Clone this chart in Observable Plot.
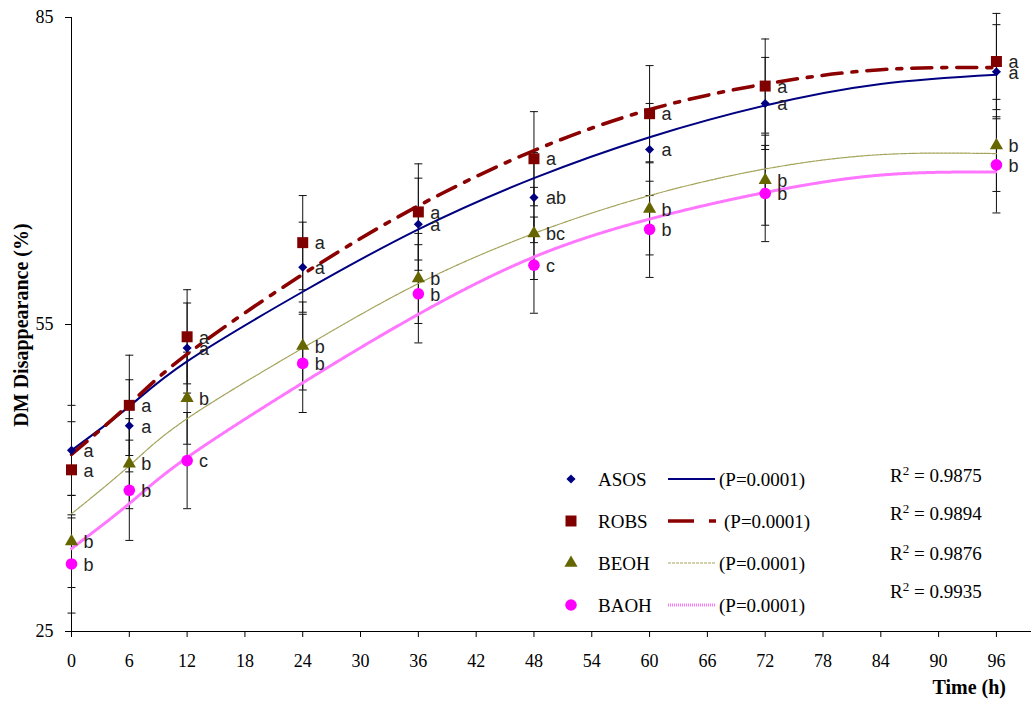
<!DOCTYPE html>
<html><head><meta charset="utf-8">
<script src="https://cdn.jsdelivr.net/npm/d3@7"></script>
<script src="https://cdn.jsdelivr.net/npm/@observablehq/plot@0.6"></script>
<style>body{margin:0;background:#fff;} #chart svg{display:block}</style>
</head><body><div id="chart"></div>
<script>
// ---- data ----
const times = [0, 6, 12, 24, 36, 48, 60, 72, 96];
const seriesNames = ["ASOS", "ROBS", "BEOH", "BAOH"];
const asos = [42.7, 45.1, 52.7, 60.6, 64.8, 67.4, 72.1, 76.6, 79.7];
const robs = [40.8, 47.1, 53.8, 63.0, 66.0, 71.2, 75.6, 78.3, 80.7];
const beoh = [33.8, 41.4, 47.8, 52.9, 59.5, 63.9, 66.3, 69.1, 72.5];
const baoh = [31.6, 38.8, 41.7, 51.2, 58.0, 60.8, 64.3, 67.8, 70.6];
const asosErr = [4.4, 4.5, 4.4, 4.4, 4.5, 4.4, 4.5, 4.5, 4.6];
const robsErr = [4.7, 4.9, 4.6, 4.6, 4.7, 4.6, 4.7, 4.6, 4.7];
const beohErr = [4.5, 4.4, 4.5, 4.3, 4.4, 4.5, 4.5, 4.4, 4.5];
const baohErr = [4.8, 4.9, 4.7, 4.8, 4.8, 4.7, 4.7, 4.7, 4.7];
const asosLetters = ["a", "a", "a", "a", "a", "ab", "a", "a", "a"];
const robsLetters = ["a", "a", "a", "a", "a", "a", "a", "a", "a"];
const beohLetters = ["b", "b", "b", "b", "b", "bc", "b", "b", "b"];
const baohLetters = ["b", "b", "c", "b", "b", "c", "b", "b", "b"];
// fitted trend curves
const fitTimes = [0, 6, 12, 24, 36, 48, 60, 72, 84, 96];
const asosFit = [42.7, 47.0, 51.4, 58.2, 64.3, 69.3, 73.3, 76.4, 78.5, 79.4];
const robsFit = [42.3, 47.2, 52.1, 59.9, 66.6, 72.0, 76.0, 78.5, 79.9, 80.1];
const beohFit = [36.5, 41.2, 45.8, 52.7, 59.0, 63.9, 67.6, 70.2, 71.6, 71.7];
const baohFit = [33.1, 37.5, 42.0, 49.3, 56.0, 61.6, 65.3, 67.9, 69.6, 69.9];
const pLabels = ["(P=0.0001)", "(P=0.0001)", "(P=0.0001)", "(P=0.0001)"];
const r2Values = ["0.9875", "0.9894", "0.9876", "0.9935"];
const xTicks = [0, 6, 12, 18, 24, 30, 36, 42, 48, 54, 60, 66, 72, 78, 84, 90, 96];
const yTicks = [25, 55, 85];

// ---- build tables ----
const vals = {ASOS: asos, ROBS: robs, BEOH: beoh, BAOH: baoh};
const errs = {ASOS: asosErr, ROBS: robsErr, BEOH: beohErr, BAOH: baohErr};
const lets = {ASOS: asosLetters, ROBS: robsLetters, BEOH: beohLetters, BAOH: baohLetters};
const fits = {ASOS: asosFit, ROBS: robsFit, BEOH: beohFit, BAOH: baohFit};
const rows = [];
for (const s of seriesNames) times.forEach((t, i) => rows.push({series: s, t, v: vals[s][i], err: errs[s][i], letter: lets[s][i]}));
const fitRows = s => fitTimes.map((t, i) => ({t, v: fits[s][i]}));

const style = {
  ASOS: {color: "#000080", symbol: "diamond2", r: 4.1, line: {stroke: "#000080", strokeWidth: 2}},
  ROBS: {color: "#800000", symbol: "square", r: 6.2, line: {stroke: "#8b0000", strokeWidth: 3.6, strokeDasharray: "20,10,5,10"}},
  BEOH: {color: "#666600", symbol: "triangle", r: 4.9, line: {stroke: "#a3a35a", strokeWidth: 1.2, strokeDasharray: "3,1"}},
  BAOH: {color: "#ff00ff", symbol: "circle", r: 5.8, line: {stroke: "#ff77ff", strokeWidth: 3, strokeDasharray: "1,1"}}
};

const cap = {draw(ctx, size) { const w = Math.sqrt(size / Math.PI); ctx.moveTo(-w, 0); ctx.lineTo(w, 0); }};

const marks = [
  Plot.ruleY([25], {stroke: "#000", strokeWidth: 1}),
  Plot.ruleX([0], {stroke: "#000", strokeWidth: 1}),
  Plot.ruleX(rows, {x: "t", y1: d => d.v - d.err, y2: d => d.v + d.err, stroke: "#111", strokeWidth: 1}),
  Plot.dot(rows, {x: "t", y: d => d.v + d.err, symbol: cap, r: 4, stroke: "#111", fill: "none", strokeWidth: 1}),
  Plot.dot(rows, {x: "t", y: d => d.v - d.err, symbol: cap, r: 4, stroke: "#111", fill: "none", strokeWidth: 1})
];
for (const s of ["BAOH", "BEOH", "ASOS", "ROBS"]) {
  marks.push(Plot.line(fitRows(s), {x: "t", y: "v", curve: "natural", ...style[s].line}));
}
for (const s of seriesNames) {
  const sub = rows.filter(d => d.series === s);
  marks.push(Plot.dot(sub, {x: "t", y: "v", symbol: style[s].symbol, r: style[s].r, fill: style[s].color, stroke: "none"}));
  marks.push(Plot.text(sub, {x: "t", y: "v", text: "letter", dx: 12, dy: 1, textAnchor: "start", lineAnchor: "middle",
    fontFamily: "Liberation Sans, Arial, sans-serif", fontSize: 18, fill: "#222"}));
}

const chart = Plot.plot({
  width: 1031, height: 703,
  marginLeft: 71, marginRight: 0, marginTop: 17, marginBottom: 72,
  style: {fontFamily: "Liberation Serif, Times New Roman, serif", fontSize: "18px", color: "#000", background: "#fff"},
  x: {domain: [0, 99.64], ticks: xTicks, tickSize: 6, tickPadding: 17, label: null},
  y: {domain: [25, 85], ticks: yTicks, tickSize: 6, tickPadding: 12, label: null},
  marks
});
document.getElementById("chart").appendChild(chart);

// ---- titles and legend ----
const svg = d3.select(chart);
const g = svg.append("g").attr("font-family", "Liberation Serif, Times New Roman, serif")
  .attr("fill", "#000").attr("text-anchor", "start");
g.append("text").attr("transform", "translate(28,325) rotate(-90)").attr("text-anchor", "middle")
  .attr("font-weight", "bold").attr("font-size", 20).text("DM Disappearance (%)");
g.append("text").attr("x", 1006).attr("y", 694).attr("text-anchor", "end")
  .attr("font-weight", "bold").attr("font-size", 20).text("Time (h)");

const legY = [479, 521, 563, 605];
const pX = [719, 724, 719, 719];
seriesNames.forEach((s, i) => {
  const y = legY[i];
  const st = style[s];
  const sym = {diamond2: d3.symbolDiamond2, square: d3.symbolSquare, triangle: d3.symbolTriangle, circle: d3.symbolCircle}[st.symbol];
  g.append("path").attr("transform", `translate(571,${y})`)
    .attr("d", d3.symbol(sym, Math.PI * st.r * st.r)()).attr("fill", st.color);
  g.append("text").attr("x", 598).attr("y", y + 7).attr("font-size", 19).attr("text-anchor", "start").text(s);
  const ln = g.append("line").attr("x1", 668).attr("x2", s === "ROBS" ? 716 : 715).attr("y1", y).attr("y2", y)
    .attr("stroke", st.line.stroke).attr("stroke-width", st.line.strokeWidth);
  if (s === "ROBS") ln.attr("stroke-dasharray", "26,15,7,15");
  else if (st.line.strokeDasharray) ln.attr("stroke-dasharray", st.line.strokeDasharray);
  g.append("text").attr("x", pX[i]).attr("y", y + 7).attr("font-size", 19).attr("text-anchor", "start").text(pLabels[i]);
});
const r2Y = [482, 520, 560, 598];
r2Values.forEach((v, i) => {
  const t = g.append("text").attr("x", 890).attr("y", r2Y[i]).attr("font-size", 19).attr("text-anchor", "start");
  t.append("tspan").text("R");
  t.append("tspan").attr("dy", -7).attr("font-size", 13).text("2");
  t.append("tspan").attr("dy", 7).text(" = " + v);
});
</script>
</body></html>
